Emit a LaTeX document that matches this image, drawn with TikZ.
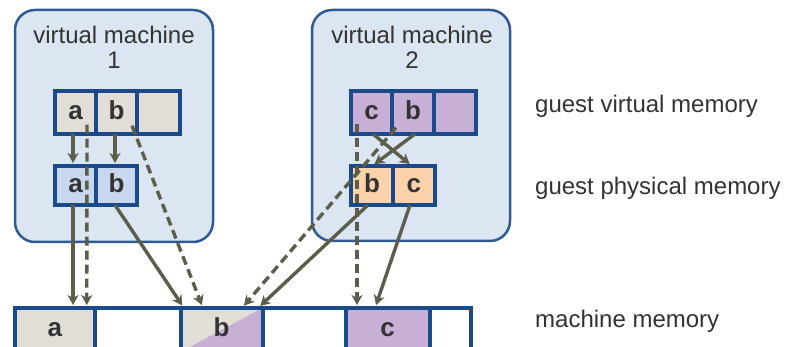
\documentclass[tikz,border=0pt]{standalone}
\usepackage{fontspec}
\setmainfont{Liberation Sans}
\usetikzlibrary{arrows.meta}
\definecolor{vmfill}{HTML}{DCE6F2}
\definecolor{vmline}{HTML}{2F5A94}
\definecolor{cellline}{HTML}{1B4A8B}
\definecolor{greyc}{HTML}{E0DED6}
\definecolor{lavc}{HTML}{C8AFD5}
\definecolor{peachc}{HTML}{FBD2AA}
\definecolor{bluec}{HTML}{C7D8EE}
\definecolor{arrc}{HTML}{5B5E4A}
\definecolor{txt}{HTML}{333333}
\begin{document}
\begin{tikzpicture}[x=1pt,y=-1pt,
  vmbox/.style={draw=vmline, fill=vmfill, line width=2.5pt, rounded corners=20pt, inner sep=0pt, outer sep=0pt},
  title/.style={align=center, text=txt, font=\fontsize{24}{25}\selectfont, inner sep=0pt},
  lbl/.style={text=txt, font=\fontsize{24}{26}\selectfont, inner sep=0pt, anchor=base west},
  cell/.style={draw=cellline, line width=4pt, inner sep=0pt, outer sep=0pt, text height=14pt, text depth=0pt, text=txt, font=\fontsize{26}{28}\selectfont\bfseries},
  gvcell/.style={cell, minimum height=42.5pt},
  gpcell/.style={cell, minimum height=39pt},
  mmcell/.style={cell, minimum height=44pt},
  conn/.style={draw=arrc, line width=3.4pt, -{Stealth[length=10pt,width=11pt,inset=3pt]}, shorten >=3pt},
  dconn/.style={conn, dash pattern=on 9pt off 5pt}
]
\useasboundingbox (0,0) rectangle (796,347);
\clip (0,0) rectangle (796,347);

% virtual machine boxes
\node[vmbox, minimum width=198pt, minimum height=232pt] (vm1) at (114,126) {};
\node[vmbox, minimum width=198pt, minimum height=231pt] (vm2) at (411,125.5) {};
\node[title] (t1) at (114,47) {virtual machine\\1};
\node[title] (t2) at (412,47) {virtual machine\\2};

% VM1 guest virtual memory
\node[gvcell, fill=greyc, minimum width=41pt] (gv1a) at (75.5,112.75) {a};
\node[gvcell, fill=greyc, minimum width=41pt] (gv1b) at (116.5,112.75) {b};
\node[gvcell, fill=greyc, minimum width=42.5pt] (gv1e) at (158.25,112.75) {};
% VM1 guest physical memory
\node[gpcell, fill=bluec, minimum width=41pt] (gp1a) at (75.5,185.5) {a};
\node[gpcell, fill=bluec, minimum width=41pt] (gp1b) at (116.5,185.5) {b};

% VM2 guest virtual memory
\node[gvcell, fill=lavc, minimum width=41pt] (gv2c) at (371.5,112.75) {c};
\node[gvcell, fill=lavc, minimum width=42pt] (gv2b) at (413,112.75) {b};
\node[gvcell, fill=lavc, minimum width=41.5pt] (gv2e) at (454.75,112.75) {};
% VM2 guest physical memory
\node[gpcell, fill=peachc, minimum width=42pt] (gp2b) at (372,185.5) {b};
\node[gpcell, fill=peachc, minimum width=41.5pt] (gp2c) at (413.75,185.5) {c};

% machine memory
\node[mmcell, fill=greyc, minimum width=80.5pt] (mma) at (54.75,330) {a};
\node[mmcell, fill=white, minimum width=85.5pt] (mme1) at (137.75,330) {};
\node[mmcell, fill=greyc, minimum width=82pt,
  path picture={\fill[lavc] (path picture bounding box.south west) -- (path picture bounding box.south east) -- (path picture bounding box.north east) -- cycle;}] (mmb) at (221.5,330) {b};
\node[mmcell, fill=white, minimum width=83pt] (mme2) at (304,330) {};
\node[mmcell, fill=lavc, minimum width=84pt] (mmc) at (387.5,330) {c};
\node[mmcell, fill=white, minimum width=41pt] (mme3) at (450,330) {};

% labels
\node[lbl] (l1) at (535,113) {guest virtual memory};
\node[lbl] (l2) at (535,195) {guest physical memory};
\node[lbl] (l3) at (535,328) {machine memory};

% VM1 connectors
\draw[conn] ([xshift=-2.5pt]gv1a.south) -- ([xshift=-2.5pt]gp1a.north);
\draw[conn] ([xshift=-1.5pt]gv1b.south) -- ([xshift=-1.5pt]gp1b.north);
\draw[dconn] ([xshift=11.5pt,yshift=-12pt]gv1a.center) -- ([xshift=32pt]mma.north);
\draw[conn] ([xshift=-2.5pt]gp1a.south) -- ([xshift=18.25pt]mma.north);
\draw[dconn] ([xshift=15.5pt,yshift=-13pt]gv1b.center) -- ([xshift=-18.5pt]mmb.north);
\draw[conn] ([xshift=-1.5pt]gp1b.south) -- ([xshift=-37.5pt]mmb.north);

% VM2 connectors
\draw[conn] ([xshift=1.5pt]gv2c.south) -- ([xshift=-1.75pt]gp2c.north);
\draw[conn] ([xshift=2pt]gv2b.south) -- ([xshift=0pt]gp2b.north);
\draw[dconn] ([xshift=-14.5pt,yshift=-11pt]gv2c.center) -- ([xshift=-30.5pt]mmc.north);
\draw[dconn] ([xshift=-17pt,yshift=-15pt]gv2b.center) -- ([xshift=20.5pt]mmb.north);
\draw[conn] ([xshift=-4pt]gp2b.south) -- ([xshift=36.5pt]mmb.north);
\draw[conn] ([xshift=-3.75pt]gp2c.south) -- ([xshift=-12.5pt]mmc.north);
\end{tikzpicture}
\end{document}
